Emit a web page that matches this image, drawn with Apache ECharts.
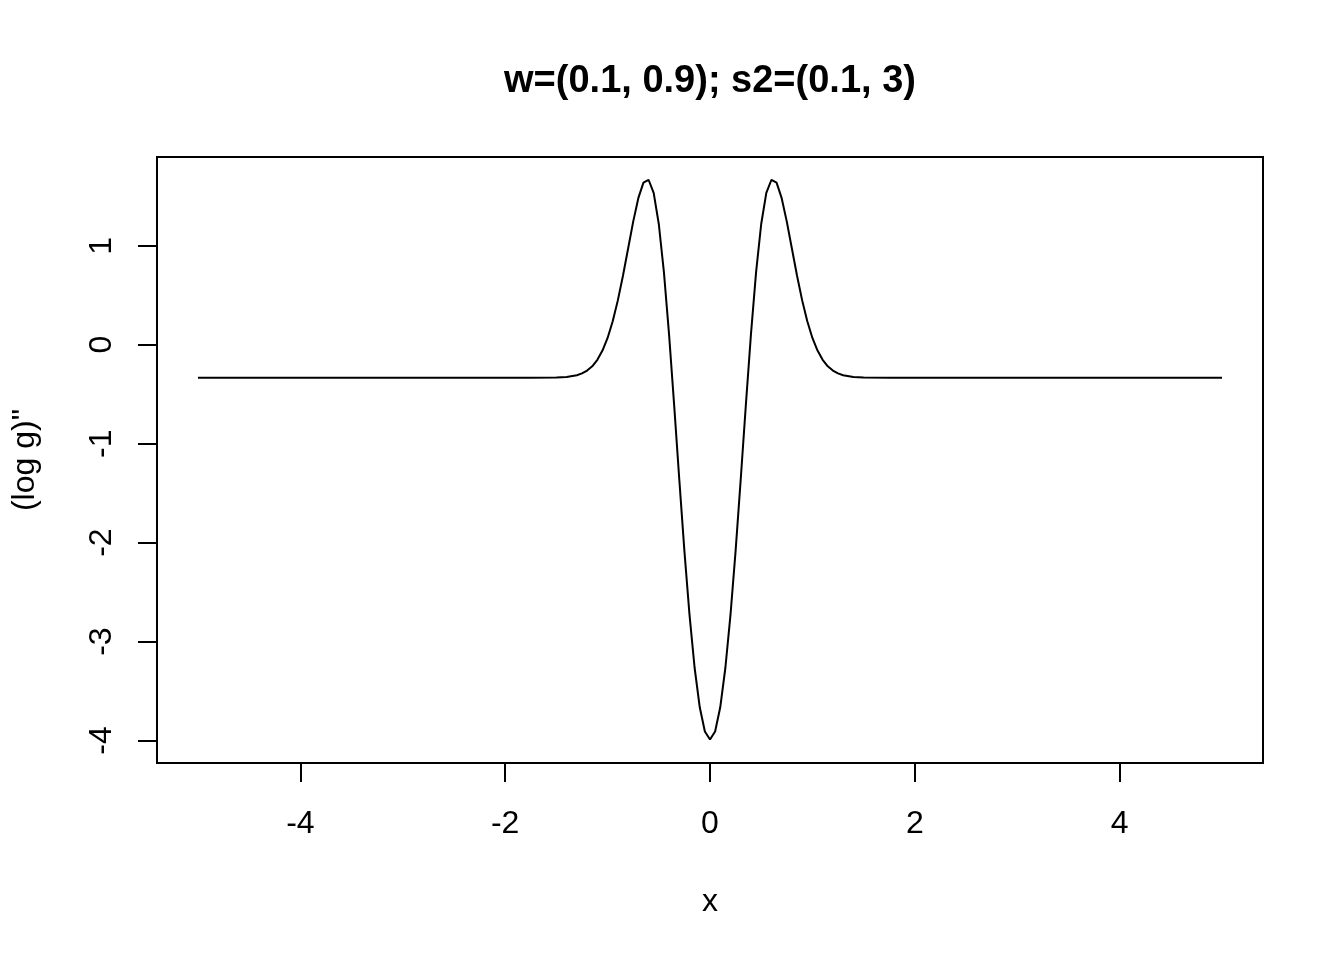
<!DOCTYPE html>
<html>
<head>
<meta charset="utf-8">
<script src="https://cdn.jsdelivr.net/npm/echarts@6/dist/echarts.min.js"></script>
<style>
  html, body { margin: 0; padding: 0; background: #fff; }
  #chart { width: 1344px; height: 960px; }
</style>
</head>
<body>
<div id="chart"></div>
<script>
const titleText = 'w=(0.1, 0.9); s2=(0.1, 3)';
const xAxisTitle = 'x';
const yAxisTitle = '(log g)"';
const xTicks = [-4, -2, 0, 2, 4];
const yTicks = [-4, -3, -2, -1, 0, 1];

const xValues = [
  -5, -4, -3, -2.5, -2, -1.75, -1.5, -1.4, -1.3, -1.25, -1.2, -1.15, -1.1, -1.05,
  -1, -0.95, -0.9, -0.85, -0.8, -0.75, -0.7, -0.65, -0.6, -0.55, -0.5, -0.45,
  -0.4, -0.35, -0.3, -0.25, -0.2, -0.15, -0.1, -0.05,
  0,
  0.05, 0.1, 0.15, 0.2, 0.25, 0.3, 0.35, 0.4, 0.45, 0.5, 0.55, 0.6, 0.65, 0.7,
  0.75, 0.8, 0.85, 0.9, 0.95, 1,
  1.05, 1.1, 1.15, 1.2, 1.25, 1.3, 1.4, 1.5, 1.75, 2, 2.5, 3, 4, 5
];
const yValues = [
  -0.333, -0.333, -0.333, -0.333, -0.333, -0.333, -0.331, -0.326, -0.308, -0.290, -0.261, -0.218, -0.152, -0.059,
  0.068, 0.237, 0.448, 0.697, 0.970, 1.244, 1.481, 1.638, 1.667, 1.534, 1.220, 0.734,
  0.107, -0.611, -1.360, -2.083, -2.731, -3.267, -3.664, -3.908,
  -3.990,
  -3.908, -3.664, -3.267, -2.731, -2.083, -1.360, -0.611, 0.107, 0.734, 1.220, 1.534, 1.667, 1.638, 1.481,
  1.244, 0.970, 0.697, 0.448, 0.237, 0.068,
  -0.059, -0.152, -0.218, -0.261, -0.290, -0.308, -0.326, -0.331, -0.333, -0.333, -0.333, -0.333, -0.333, -0.333
];

const FONT = '"Liberation Sans", Arial, sans-serif';
const chart = echarts.init(document.getElementById('chart'), null, { renderer: 'canvas' });

chart.setOption({
  animation: false,
  backgroundColor: '#ffffff',
  graphic: [{
    type: 'text',
    x: 710,
    y: 82,
    style: {
      text: titleText,
      fill: '#000',
      font: 'bold 38px ' + FONT,
      textAlign: 'center',
      textVerticalAlign: 'middle'
    }
  }],
  grid: {
    left: 157, top: 157, width: 1106, height: 606,
    show: true, borderColor: '#000', borderWidth: 2, backgroundColor: 'transparent'
  },
  xAxis: {
    type: 'value',
    min: -5.4, max: 5.4,
    name: xAxisTitle,
    nameLocation: 'middle',
    nameGap: 123,
    nameTextStyle: { fontSize: 32, color: '#000', fontFamily: FONT },
    axisLine: { show: false, onZero: false },
    splitLine: { show: false },
    axisTick: { show: true, inside: false, length: 19, customValues: xTicks, lineStyle: { color: '#000', width: 2 } },
    axisLabel: { show: true, customValues: xTicks, fontSize: 32, color: '#000', fontFamily: FONT, margin: 45 }
  },
  yAxis: {
    type: 'value',
    min: -4.227, max: 1.897,
    name: yAxisTitle,
    nameLocation: 'middle',
    nameGap: 116,
    nameRotate: 90,
    nameTextStyle: { fontSize: 32, color: '#000', fontFamily: FONT },
    axisLine: { show: false, onZero: false },
    splitLine: { show: false },
    axisTick: { show: true, inside: false, length: 19, customValues: yTicks, lineStyle: { color: '#000', width: 2 } },
    axisLabel: { show: true, customValues: yTicks, rotate: 90, fontSize: 32, color: '#000', fontFamily: FONT, margin: 39 }
  },
  series: [{
    type: 'line',
    data: xValues.map((x, i) => [x, yValues[i]]),
    showSymbol: false,
    symbol: 'none',
    smooth: false,
    lineStyle: { color: '#000', width: 2 },
    silent: true
  }]
});
</script>
</body>
</html>
